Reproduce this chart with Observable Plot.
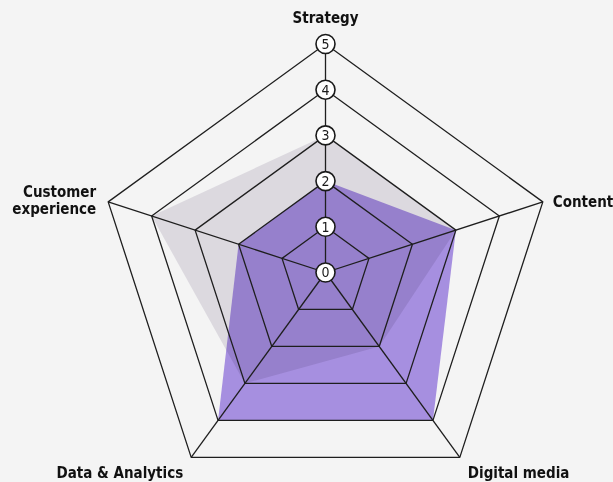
<!DOCTYPE html>
<html>
<head>
<meta charset="utf-8">
<script src="https://cdn.jsdelivr.net/npm/d3@7"></script>
<script src="https://cdn.jsdelivr.net/npm/@observablehq/plot@0.6"></script>
<style>
  html, body { margin: 0; padding: 0; background: #f4f4f4; }
  #chart svg { display: block; }
</style>
</head>
<body>
<div id="chart"></div>
<script>
// ---- data ----
const axes = ["Strategy", "Content", "Digital media", "Data & Analytics", "Customer experience"];
const seriesGray = [3, 3, 2, 3, 4];
const seriesPurple = [2, 3, 4, 4, 2];
const gridLevels = [1, 2, 3, 4, 5];
const tickLabels = [0, 1, 2, 3, 4, 5];

// ---- layout ----
const W = 613, H = 482;
const cx = 325, cy = 272, k = 45.7; // center and px per unit
const maxLevel = 5;

const angle = i => (i * 2 * Math.PI) / axes.length;
const px = (v, i) => v * Math.sin(angle(i));
const py = (v, i) => v * Math.cos(angle(i));

const poly = (values, name) => values.map((v, i) => ({series: name, axis: axes[i], x: px(v, i), y: py(v, i)}));

const grayPts = poly(seriesGray, "gray");
const purplePts = poly(seriesPurple, "purple");
const gridPts = gridLevels.flatMap(l => axes.map((a, i) => ({level: l, x: px(l, i), y: py(l, i)})));
const spokes = axes.map((a, i) => ({x1: 0, y1: 0, x2: px(maxLevel, i), y2: py(maxLevel, i)}));
const ticks = tickLabels.map(t => ({t, x: 0, y: t}));
const labels = axes.map((a, i) => ({name: a, x: px(maxLevel, i), y: py(maxLevel, i), i}));

const condensed = "'Liberation Sans Narrow', 'DejaVu Sans Condensed', 'Roboto Condensed', sans-serif";
const labelFont = {fontFamily: condensed, fontWeight: "bold", fontSize: 15, fill: "#111"};

const chart = Plot.plot({
  width: W,
  height: H,
  margin: 0,
  style: {background: "#f4f4f4", overflow: "visible"},
  x: {domain: [-cx / k, (W - cx) / k], range: [0, W], axis: null},
  y: {domain: [-(H - cy) / k, cy / k], range: [H, 0], axis: null},
  marks: [
    Plot.line(grayPts, {x: "x", y: "y", curve: "linear-closed", fill: "#dcd9df", stroke: "none"}),
    Plot.line(purplePts, {x: "x", y: "y", curve: "linear-closed", fill: "#ae96ea", stroke: "none", mixBlendMode: "multiply"}),
    Plot.line(gridPts, {x: "x", y: "y", z: "level", curve: "linear-closed", stroke: "#1e1e1e", strokeWidth: 1.3}),
    Plot.link(spokes, {x1: "x1", y1: "y1", x2: "x2", y2: "y2", stroke: "#1e1e1e", strokeWidth: 1.3}),
    Plot.dot(ticks, {x: "x", y: "y", r: 9.5, fill: "white", stroke: "#1a1a1a", strokeWidth: 1.6}),
    Plot.text(ticks, {x: "x", y: "y", text: d => String(d.t), fontSize: 14, fontWeight: "normal", fill: "#1a1a1a", fontFamily: condensed, dy: 0.5}),
    Plot.text(labels.filter(d => d.i === 0), {x: "x", y: "y", text: "name", dy: -26, textAnchor: "middle", ...labelFont}),
    Plot.text(labels.filter(d => d.i === 1), {x: "x", y: "y", text: "name", dx: 10, textAnchor: "start", ...labelFont}),
    Plot.text(labels.filter(d => d.i === 2), {x: "x", y: "y", text: "name", dx: 8, dy: 16, textAnchor: "start", ...labelFont}),
    Plot.text(labels.filter(d => d.i === 3), {x: "x", y: "y", text: "name", dx: -8, dy: 16, textAnchor: "end", ...labelFont}),
    Plot.text(labels.filter(d => d.i === 4), {x: "x", y: "y", text: d => "Customer\nexperience", dx: -12, dy: -2, textAnchor: "end", lineHeight: 1.15, ...labelFont})
  ]
});
document.getElementById("chart").appendChild(chart);
</script>
</body>
</html>
